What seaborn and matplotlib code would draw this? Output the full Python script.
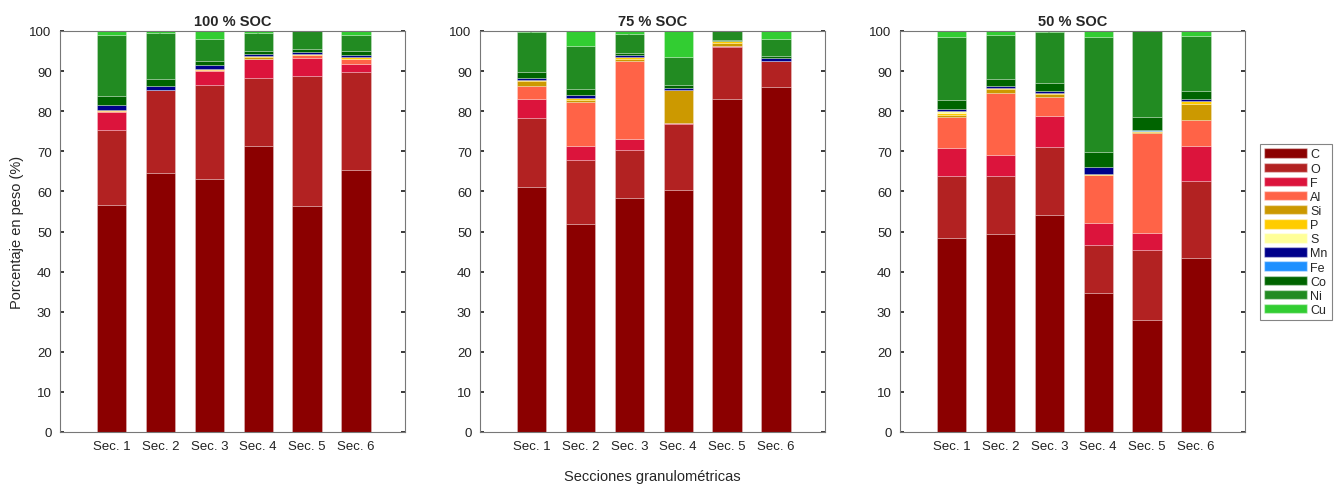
import numpy as np
import pandas as pd
import matplotlib
matplotlib.use("Agg")
import matplotlib.pyplot as plt
from matplotlib.patches import Patch
import seaborn as sns

sns.set_theme(style="white")
plt.rcParams["font.family"] = ["Liberation Sans", "DejaVu Sans"]

sections = ["Sec. 1", "Sec. 2", "Sec. 3", "Sec. 4", "Sec. 5", "Sec. 6"]
elements = ["C", "O", "F", "Al", "Si", "P", "S", "Mn", "Fe", "Co", "Ni", "Cu"]
element_colors = ["#8B0000", "#B22222", "#DC143C", "#FF6347", "#CC9900", "#FFCC00",
                  "#FFFF99", "#00008B", "#1E90FF", "#006400", "#228B22", "#32CD32"]

# wt.% per element (rows follow `elements`), one column per section
soc_100 = [
    [56.6, 64.6, 63.0, 71.2, 56.3, 65.3],   # C
    [18.6, 20.7, 23.5, 17.1, 32.6, 24.6],   # O
    [4.6, 0.1, 3.5, 4.8, 4.4, 1.9],         # F
    [0.2, 0.0, 0.2, 0.0, 0.6, 1.2],         # Al
    [0.0, 0.0, 0.0, 0.3, 0.0, 0.0],         # Si
    [0.2, 0.0, 0.2, 0.3, 0.4, 0.4],         # P
    [0.0, 0.0, 0.0, 0.0, 0.0, 0.0],         # S
    [1.3, 1.0, 1.0, 0.6, 0.5, 0.6],         # Mn
    [0.0, 0.0, 0.0, 0.0, 0.0, 0.0],         # Fe
    [2.3, 1.7, 1.2, 0.6, 0.7, 0.9],         # Co
    [15.1, 11.4, 5.4, 4.6, 4.5, 4.1],       # Ni
    [1.1, 0.5, 2.0, 0.5, 0.0, 1.0],         # Cu
]
soc_75 = [
    [61.0, 51.9, 58.3, 60.3, 83.0, 86.0],   # C
    [17.4, 15.9, 11.9, 16.5, 13.0, 6.6],    # O
    [4.6, 3.4, 2.8, 0.2, 0.3, 0.0],         # F
    [3.3, 11.0, 19.5, 0.0, 0.0, 0.0],       # Al
    [1.2, 0.6, 0.5, 8.2, 0.8, 0.0],         # Si
    [0.4, 0.6, 0.5, 0.1, 0.5, 0.0],         # P
    [0.0, 0.0, 0.0, 0.0, 0.0, 0.0],         # S
    [0.5, 0.6, 0.5, 0.6, 0.0, 0.7],         # Mn
    [0.0, 0.0, 0.0, 0.0, 0.0, 0.0],         # Fe
    [1.3, 1.5, 0.4, 0.7, 0.2, 0.5],         # Co
    [10.0, 10.8, 4.9, 7.0, 2.2, 4.2],       # Ni
    [0.3, 3.7, 0.7, 6.4, 0.0, 2.0],         # Cu
]
soc_50 = [
    [48.4, 49.5, 54.2, 34.7, 28.0, 43.4],   # C
    [15.5, 14.3, 16.8, 11.9, 17.4, 19.2],   # O
    [6.8, 5.4, 7.7, 5.4, 4.2, 8.7],         # F
    [7.9, 15.3, 4.9, 12.0, 25.0, 6.6],      # Al
    [0.4, 1.0, 0.6, 0.2, 0.3, 3.9],         # Si
    [0.5, 0.3, 0.3, 0.2, 0.2, 0.7],         # P
    [0.5, 0.0, 0.0, 0.0, 0.0, 0.0],         # S
    [0.5, 0.6, 0.6, 1.6, 0.0, 0.5],         # Mn
    [0.0, 0.0, 0.0, 0.0, 0.2, 0.0],         # Fe
    [2.3, 1.6, 1.9, 3.9, 3.3, 2.1],         # Co
    [15.6, 11.0, 12.7, 28.7, 21.4, 13.7],   # Ni
    [1.6, 1.0, 0.3, 1.4, 0.0, 1.2],         # Cu
]
panel_titles = ["100 % SOC", "75 % SOC", "50 % SOC"]
panel_data = [soc_100, soc_75, soc_50]

fig = plt.figure(figsize=(13.38, 4.89), dpi=100)
lefts = [60 / 1338, 480 / 1338, 900 / 1338]
axes = [fig.add_axes([l, 56 / 489, 345 / 1338, 401 / 489]) for l in lefts]

for ax, title, data in zip(axes, panel_titles, panel_data):
    values = np.array(data, dtype=float)
    bottom = np.zeros(len(sections))
    for elem, color, row in zip(elements, element_colors, values):
        df = pd.DataFrame({"section": sections, "value": row})
        sns.barplot(data=df, x="section", y="value", order=sections,
                    color=color, saturation=1, width=0.6, bottom=bottom,
                    edgecolor=(1, 1, 1, 0.3), linewidth=0.6, ax=ax, errorbar=None)
        bottom = bottom + row
    ax.set_xlim(-1.05, 6.0)
    ax.set_ylim(0, 100)
    ax.set_yticks(np.arange(0, 101, 10))
    ax.set_xlabel("")
    ax.set_ylabel("")
    ax.set_title(title, fontsize=10.5, fontweight="bold", pad=4)
    ax.tick_params(axis="both", which="both", direction="in", length=3,
                   top=True, right=True, bottom=True, left=True,
                   labelsize=9.5, colors="#222222", pad=6)
    for sp in ax.spines.values():
        sp.set_color("#777777")
        sp.set_linewidth(0.8)

axes[0].set_ylabel("Porcentaje en peso (%)", fontsize=10.5)
fig.text(652 / 1338, 0.025, "Secciones granulométricas", ha="center",
         va="center", fontsize=10.5)

handles = [Patch(facecolor=c, edgecolor=(1, 1, 1, 0.4), label=e)
           for e, c in zip(elements, element_colors)]
leg = fig.legend(handles=handles, loc="upper left",
                 bbox_to_anchor=(1260 / 1338, 1 - 145 / 489), fontsize=9,
                 handlelength=3.4, handleheight=0.8, labelspacing=0.16,
                 handletextpad=0.25, borderpad=0.35, borderaxespad=0,
                 frameon=True, fancybox=False)
leg.get_frame().set_edgecolor("#666666")
leg.get_frame().set_linewidth(0.8)

fig.savefig("out.png", dpi=100)
